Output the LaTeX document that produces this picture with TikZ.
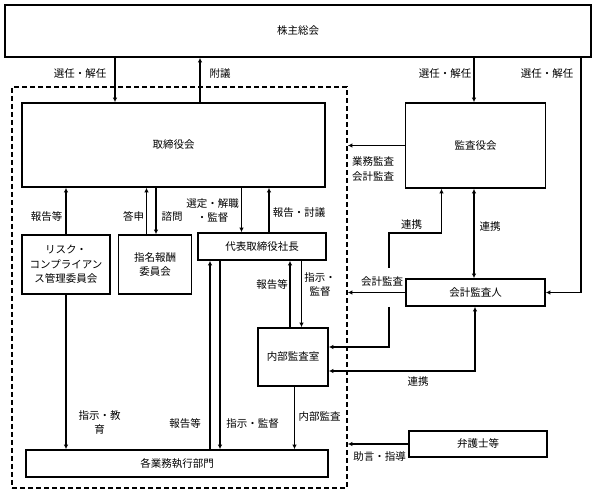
\documentclass[tikz,border=0pt]{standalone}
\usepackage{fontspec}
\setmainfont{Noto Sans CJK JP}
\usepackage{tikz}
\usetikzlibrary{positioning, arrows.meta}

\begin{document}
\begin{tikzpicture}
    [
        x=1pt, y=-1pt, >={Latex[length=4.5pt, width=4.5pt]},
        every node/.style={font=\fontsize{10.5}{13.5}\selectfont},
        black_box/.style={rectangle, draw=black, line width=0.6mm, align=center, inner sep=0pt},
        dashed_box/.style={rectangle, draw=black, line width=0.6mm, dash pattern=on 5pt off 3pt},
        text_label/.style={align=center, inner sep=0pt},
    ]
        \useasboundingbox (0,0) rectangle (598,494) ;
        % boxes
        \node[dashed_box, minimum width=335pt, minimum height=401pt] (group) at (179.5,287.5) {} ;
        \node[black_box, minimum width=586pt, minimum height=52pt] (meeting) at (298,31) {株主総会} ;
        \node[black_box, minimum width=303pt, minimum height=84pt] (board) at (173.5,145) {取締役会} ;
        \node[black_box, minimum width=140pt, minimum height=85pt] (audit_board) at (475.5,145.5) {監査役会} ;
        \node[black_box, minimum width=139pt, minimum height=27pt] (auditor) at (475.5,292.5) {会計監査人} ;
        \node[black_box, minimum width=88pt, minimum height=59pt, font=\fontsize{10.5}{14.5}\selectfont] (risk) at (66,264.5) {リスク・\\コンプライアン\\ス管理委員会} ;
        \node[black_box, minimum width=73pt, minimum height=59pt] (nomination) at (155,264.5) {指名報酬\\委員会} ;
        \node[black_box, minimum width=128pt, minimum height=27pt] (ceo) at (262,246.5) {代表取締役社長} ;
        \node[black_box, minimum width=70pt, minimum height=58pt] (internal) at (293,357) {内部監査室} ;
        \node[black_box, minimum width=302pt, minimum height=27pt] (depts) at (177,463.5) {各業務執行部門} ;
        \node[black_box, minimum width=138pt, minimum height=26pt] (lawyer) at (478,444) {弁護士等} ;
        \coordinate (link_top) at (389,268) ;
        \coordinate (link_bottom) at (389,307) ;
        % connectors
        \draw[->, line width=0.45mm, color=black] (115,0 |- meeting.south) to (115,0 |- board.north) ;
        \draw[->, line width=0.45mm, color=black] (200,0 |- board.north) to (200,0 |- meeting.south) ;
        \draw[->, line width=0.45mm, color=black] (474,0 |- meeting.south) to (474,0 |- audit_board.north) ;
        \draw[->, line width=0.45mm, color=black] (581,0 |- meeting.south) |- (auditor.east) ;
        \draw[->, line width=0.45mm, color=black] (audit_board.west) to (audit_board.west -| group.east) ;
        \draw[<->, line width=0.45mm, color=black] (474,0 |- audit_board.south) to (474,0 |- auditor.north) ;
        \draw[->, line width=0.45mm, color=black] (auditor.west) to (auditor.west -| group.east) ;
        \draw[->, line width=0.45mm, color=black] (link_top) |- (441.5,233) to (441.5,0 |- audit_board.south) ;
        \draw[->, line width=0.45mm, color=black] (link_bottom) |- (internal.east |- 0,347) ;
        \draw[<->, line width=0.45mm, color=black] (475,0 |- auditor.south) |- (internal.east |- 0,371) ;
        \draw[->, line width=0.45mm, color=black] (lawyer.west) to (lawyer.west -| group.east) ;
        \draw[->, line width=0.45mm, color=black] (risk.north) to (risk.north |- board.south) ;
        \draw[->, line width=0.45mm, color=black] (risk.south) to (risk.south |- depts.north) ;
        \draw[->, line width=0.45mm, color=black] (146.5,0 |- nomination.north) to (146.5,0 |- board.south) ;
        \draw[->, line width=0.45mm, color=black] (156,0 |- board.south) to (156,0 |- nomination.north) ;
        \draw[->, line width=0.45mm, color=black] (241.5,0 |- board.south) to (241.5,0 |- ceo.north) ;
        \draw[->, line width=0.45mm, color=black] (269,0 |- ceo.north) to (269,0 |- board.south) ;
        \draw[->, line width=0.45mm, color=black] (290,0 |- internal.north) to (290,0 |- ceo.south) ;
        \draw[->, line width=0.45mm, color=black] (301.5,0 |- ceo.south) to (301.5,0 |- internal.north) ;
        \draw[->, line width=0.45mm, color=black] (210,0 |- depts.north) to (210,0 |- ceo.south) ;
        \draw[->, line width=0.45mm, color=black] (220,0 |- ceo.south) to (220,0 |- depts.north) ;
        \draw[->, line width=0.45mm, color=black] (294.5,0 |- internal.south) to (294.5,0 |- depts.north) ;
        % labels
        \node[text_label] (l_elect1) at (80,74) {選任・解任} ;
        \node[text_label] (l_propose) at (220,74) {附議} ;
        \node[text_label] (l_elect2) at (445,74) {選任・解任} ;
        \node[text_label] (l_elect3) at (547,74) {選任・解任} ;
        \node[text_label, font=\fontsize{10.5}{15.5}\selectfont] (l_audit) at (373,169) {業務監査\\会計監査} ;
        \node[text_label] (l_link1) at (411.5,225) {連携} ;
        \node[text_label] (l_link2) at (490,226.5) {連携} ;
        \node[text_label] (l_acct) at (382,282) {会計監査} ;
        \node[text_label] (l_link3) at (418,382) {連携} ;
        \node[text_label] (l_advice) at (379.5,457) {助言・指導} ;
        \node[text_label] (l_report1) at (46.5,216.5) {報告等} ;
        \node[text_label] (l_answer) at (133.5,216.5) {答申} ;
        \node[text_label] (l_consult) at (172,216.5) {諮問} ;
        \node[text_label, font=\fontsize{10.5}{14.5}\selectfont] (l_select) at (212.5,210.5) {選定・解職\\・監督} ;
        \node[text_label] (l_report2) at (299,212.5) {報告・討議} ;
        \node[text_label] (l_report3) at (272,285) {報告等} ;
        \node[text_label, font=\fontsize{10.5}{14}\selectfont] (l_direct1) at (320,285) {指示・\\監督} ;
        \node[text_label, font=\fontsize{10.5}{14}\selectfont] (l_educate) at (99.5,423) {指示・教\\育} ;
        \node[text_label] (l_report4) at (185,423.5) {報告等} ;
        \node[text_label] (l_direct2) at (252.5,424) {指示・監督} ;
        \node[text_label] (l_internal) at (319.5,416.5) {内部監査} ;
    \end{tikzpicture}
\end{document}
